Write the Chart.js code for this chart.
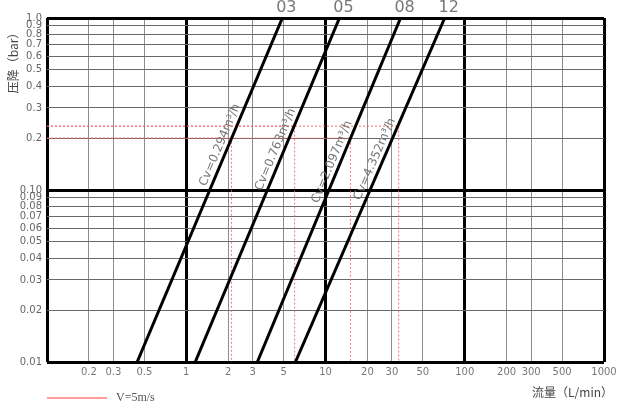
<!DOCTYPE html>
<html>
<head>
<meta charset="utf-8">
<script src="https://cdn.jsdelivr.net/npm/chart.js@4"></script>
<style>
  html, body { margin: 0; padding: 0; background: #fff; }
  #wrap { width: 617px; height: 406px; }
</style>
</head>
<body>
<div id="wrap"><canvas id="myChartDrop"></canvas></div>
<script>
const sizes = ['03', '05', '08', '12'];
const cvValues = ['0.294', '0.763', '2.097', '4.352'];
const flowAtLow = [0.444, 1.16, 3.24, 6.08]; // L/min at 0.01 bar
const flowAtHigh = [4.9, 12.6, 34.6, 71.8]; // L/min at 1.0 bar
const velocityFlow = [2.11, 6.0, 15.1, 33.5]; // V=5m/s points
const velocityDrop = [0.2, 0.235, 0.2, 0.235];
const cvLabelDrop = [0.175, 0.165, 0.14, 0.145];
const xTicks = [0.1, 0.2, 0.3, 0.5, 1, 2, 3, 5, 10, 20, 30, 50, 100, 200, 300, 500, 1000];
const xTickLabels = ['', '0.2', '0.3', '0.5', '1', '2', '3', '5', '10', '20', '30', '50', '100', '200', '300', '500', '1000'];
const yTicks = [0.01, 0.02, 0.03, 0.04, 0.05, 0.06, 0.07, 0.08, 0.09, 0.1, 0.2, 0.3, 0.4, 0.5, 0.6, 0.7, 0.8, 0.9, 1.0];
const yTickLabels = ['0.01', '0.02', '0.03', '0.04', '0.05', '0.06', '0.07', '0.08', '0.09', '0.10', '0.2', '0.3', '0.4', '0.5', '0.6', '0.7', '0.8', '0.9', '1.0'];

const isDecade = (v) => Math.abs(Math.log10(v) - Math.round(Math.log10(v))) < 1e-6;

function chartDropInit() {
  const ctx = document.getElementById('myChartDrop');

  const datasets = [];
  sizes.forEach((s, i) => {
    datasets.push({
      label: s,
      data: [
        { x: flowAtLow[i], y: 0.01 },
        { x: flowAtHigh[i], y: 1.0 },
      ],
      showLine: true,
      pointStyle: false,
      borderColor: '#000',
      borderWidth: 3,
      order: 0,
    });
    datasets.push({
      label: 'V=5m/s',
      data: [
        { x: 0.1, y: velocityDrop[i] },
        { x: velocityFlow[i], y: velocityDrop[i] },
        { x: velocityFlow[i], y: 0.01 },
      ],
      showLine: true,
      pointStyle: false,
      borderColor: 'rgba(255, 90, 90, 0.85)',
      borderWidth: 1,
      borderDash: [2, 2],
      order: 1,
    });
  });

  const textPlugin = {
    id: 'textPlugin',
    afterDraw(chart) {
      const c = chart.ctx;
      const xs = chart.scales.x;
      const ys = chart.scales.y;
      c.save();
      // size labels above the top ends
      c.fillStyle = '#777';
      c.font = "16px 'DejaVu Sans'";
      c.textAlign = 'center';
      c.textBaseline = 'middle';
      sizes.forEach((s, i) => {
        c.fillText(s, xs.getPixelForValue(flowAtHigh[i]) + 4, 8);
      });
      // Cv labels along lines
      c.font = "12px 'DejaVu Sans'";
      sizes.forEach((s, i) => {
        const x0 = xs.getPixelForValue(flowAtLow[i]);
        const y0 = ys.getPixelForValue(0.01);
        const x1 = xs.getPixelForValue(flowAtHigh[i]);
        const y1 = ys.getPixelForValue(1.0);
        const ang = Math.atan2(y1 - y0, x1 - x0);
        const py = ys.getPixelForValue(cvLabelDrop[i]);
        const px = x0 + (x1 - x0) * (py - y0) / (y1 - y0);
        c.save();
        c.translate(px, py);
        c.rotate(ang);
        c.textBaseline = 'bottom';
        c.fillText('Cv=' + cvValues[i] + 'm³/h', 0, -2);
        c.restore();
      });
      // axis titles
      c.fillStyle = '#444';
      c.font = "12px 'Noto Sans CJK SC'";
      c.save();
      c.translate(13, 60);
      c.rotate(-Math.PI / 2);
      c.textAlign = 'center';
      c.textBaseline = 'middle';
      c.fillText('压降（bar）', 0, 0);
      c.restore();
      c.textAlign = 'right';
      c.textBaseline = 'middle';
      c.fillText('流量（L/min）', 613, 392);
      // legend
      c.strokeStyle = '#ff7b7b';
      c.lineWidth = 1.5;
      c.beginPath();
      c.moveTo(47, 398);
      c.lineTo(107, 398);
      c.stroke();
      c.fillStyle = '#555';
      c.font = "12px 'Liberation Serif'";
      c.textAlign = 'left';
      c.fillText('V=5m/s', 116, 398);
      c.restore();
    },
  };

  new Chart(ctx, {
    type: 'scatter',
    data: { datasets },
    plugins: [textPlugin],
    options: {
      responsive: true,
      maintainAspectRatio: false,
      animation: false,
      layout: { padding: { top: 18, right: 13, left: 0, bottom: 0 } },
      scales: {
        x: {
          type: 'logarithmic',
          min: 0.1,
          max: 1000,
          afterBuildTicks: (scale) => {
            scale.ticks = xTicks.map((v) => ({ value: v }));
          },
          afterFit: (scale) => {
            scale.height = 44;
            scale.paddingLeft = 0;
            scale.paddingRight = 0;
          },
          border: { display: false },
          grid: {
            drawTicks: false,
            color: (context) => (isDecade(context.tick.value) ? '#000' : '#8c8c8c'),
            lineWidth: (context) => (isDecade(context.tick.value) ? 3 : 1),
          },
          ticks: {
            autoSkip: false,
            maxRotation: 0,
            padding: 4,
            color: '#777',
            font: { size: 10, family: "'DejaVu Sans'" },
            callback: (value, index) => xTickLabels[index],
          },
        },
        y: {
          type: 'logarithmic',
          min: 0.01,
          max: 1.0,
          afterBuildTicks: (scale) => {
            scale.ticks = yTicks.map((v) => ({ value: v }));
          },
          afterFit: (scale) => {
            scale.width = 47;
            scale.paddingTop = 0;
            scale.paddingBottom = 0;
          },
          border: { display: false },
          grid: {
            drawTicks: false,
            color: (context) => (isDecade(context.tick.value) ? '#000' : '#6a6a6a'),
            lineWidth: (context) => (isDecade(context.tick.value) ? 3 : 1),
          },
          ticks: {
            autoSkip: false,
            padding: 5,
            color: '#666',
            font: { size: 10, family: "'DejaVu Sans'" },
            callback: (value, index) => yTickLabels[index],
          },
        },
      },
      plugins: {
        legend: { display: false },
        tooltip: { enabled: false },
      },
    },
  });
}

chartDropInit();
</script>
</body>
</html>
